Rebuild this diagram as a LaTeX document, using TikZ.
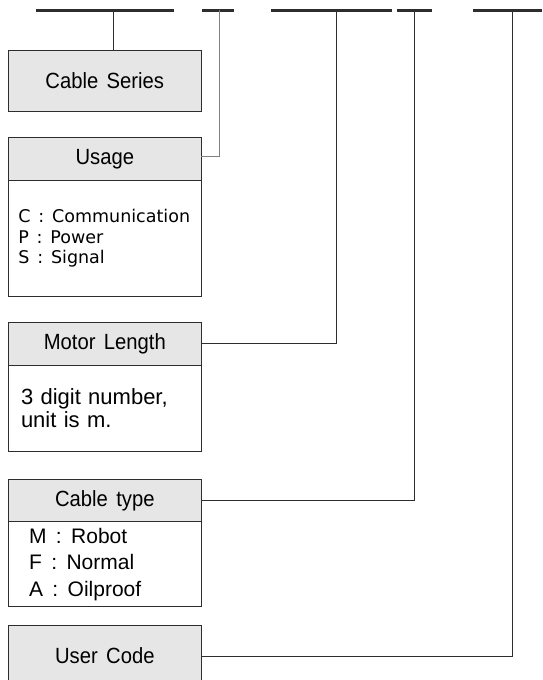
\documentclass[tikz,border=0pt]{standalone}
\usepackage{fontspec}
\setmainfont{Liberation Sans}[WordSpace=1.5]
\newfontfamily\headfont{Liberation Sans}[FakeStretch=0.92, WordSpace=1.5]
\newfontfamily\itemfont{DejaVu Sans}[WordSpace=1.3]
\usetikzlibrary{positioning}
\definecolor{headgray}{RGB}{230,230,230}
\definecolor{linegray}{RGB}{45,45,45}
\newcommand{\colsep}{\hspace{0.45em}:\hspace{0.45em}}

\begin{document}
\begin{tikzpicture}[x=1pt, y=-1pt, node distance=26pt]
    \tikzstyle{head} = [draw=linegray, line width=0.8pt, fill=headgray,
	minimum width=193pt, inner sep=0pt, outer sep=0pt,
	font=\headfont\fontsize{22}{24}\selectfont]
    \tikzstyle{body} = [draw=linegray, line width=0.8pt, inner ysep=0pt,
	outer sep=0pt, align=left]
    \tikzstyle{bar} = [line width=3pt, draw=linegray]
    \tikzstyle{link} = [line width=1pt, draw=linegray]

    \useasboundingbox (0,0) rectangle (542,680);

		% code positions
		\draw[bar] (35.6,10) -- (174,10);
		\draw[bar] (202.3,10) -- (234,10);
		\draw[bar] (271,10) -- (392.3,10);
		\draw[bar] (396.7,10) -- (432.3,10);
		\draw[bar] (472.7,10) -- (542,10);

		\coordinate (t1) at (113.3,10);
		\coordinate (t2) at (219,10);
		\coordinate (t3) at (336.7,10);
		\coordinate (t4) at (414.3,10);
		\coordinate (t5) at (512.3,10);

		% boxes
		\node[head, minimum height=61pt] (series) at (104.8,80.5) {Cable Series};

		\node[head, minimum height=43.4pt, below=26.3pt of series] (usage) {Usage};
		\node[body, below=0pt of usage, minimum height=115.3pt, inner xsep=10pt,
			text width=173pt, font=\itemfont\fontsize{17.5}{20.5}\selectfont] (usagebody)
			{C\colsep Communication\\P\colsep Power\\S\colsep Signal};

		\node[head, minimum height=42.3pt, below=26.7pt of usagebody] (motor) {Motor Length};
		\node[body, below=0pt of motor, minimum height=86pt, inner xsep=12.7pt,
			text width=167.6pt, font=\fontsize{22}{23}\selectfont] (motorbody)
			{3 digit number,\\unit is m.};

		\node[head, minimum height=42.4pt, below=28.3pt of motorbody] (ctype) {Cable type};
		\node[body, below=0pt of ctype, minimum height=85pt, inner xsep=20.7pt,
			text width=151.6pt, font=\fontsize{21}{26.6}\selectfont] (ctypebody)
			{M\colsep Robot\\F\colsep Normal\\A\colsep Oilproof};

		\node[head, minimum height=62pt, below=18.3pt of ctypebody] (user) {User Code};

		% connectors
		\draw[link] (t1) -- (t1 |- series.north);
		\draw[link, draw=gray] (t2) |- ([yshift=3pt]usage.east);
		\draw[link] (t3) |- (motor.east);
		\draw[link] (t4) |- (ctype.east);
		\draw[link] (t5) |- (user.east);

\end{tikzpicture}
\end{document}
